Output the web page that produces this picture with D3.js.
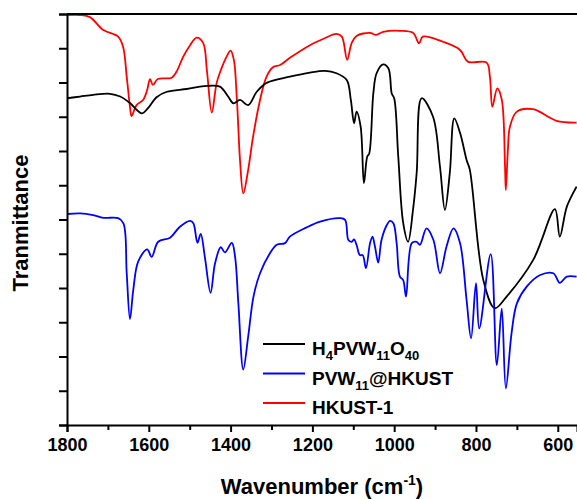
<!DOCTYPE html>
<html>
<head>
<meta charset="utf-8">
<script src="https://cdn.jsdelivr.net/npm/d3@7"></script>
<style>
  body { margin: 0; background: #fff; }
  text { font-family: "Liberation Sans", Arial, sans-serif; font-weight: bold; }
</style>
</head>
<body>
<div id="chart-area"></div>
<script>
// FTIR spectra, [wavenumber cm-1, transmittance (a.u.)]
const hkust = [
  [1800, 119.7], [1768, 119.7], [1744, 119.1], [1711, 115.3], [1675, 113.4], [1663, 110.5],
  [1654, 101.7], [1646, 92.9], [1642, 90.2], [1630, 93.4], [1614, 94.9], [1604, 97.8],
  [1597, 101.0], [1590, 99.3], [1578, 101.0], [1544, 101.4], [1532, 103.2], [1516, 107.5],
  [1499, 110.9], [1483, 113.1], [1467, 111.5], [1458, 103.6], [1446, 91.2], [1434, 99.9],
  [1422, 104.2], [1410, 107.5], [1400, 109.3], [1392, 106.6], [1385, 95.9], [1382, 89.1],
  [1377, 77.4], [1369, 67.6], [1357, 74.5], [1345, 84.2], [1328, 94.9], [1312, 101.7],
  [1296, 104.5], [1279, 105.1], [1255, 107.2], [1206, 110.9], [1174, 112.7], [1141, 114.2],
  [1128, 113.4], [1115, 106.6], [1104, 111.5], [1092, 113.6], [1059, 114.5], [1045, 113.9],
  [1027, 114.8], [986, 115.1], [954, 114.5], [939, 111.4], [930, 113.4], [881, 111.9],
  [839, 109.5], [820, 106.1], [774, 105.8], [766, 101.7], [760, 92.9], [748, 98.3],
  [737, 95.0], [729, 75.4], [727, 68.6], [722, 80.3], [717, 87.1], [700, 91.5],
  [661, 92.2], [603, 88.8], [554, 88.3]
];

const pvw = [
  [1800, 95.4], [1768, 95.9], [1736, 96.4], [1695, 96.7], [1670, 95.9], [1646, 94.0],
  [1617, 91.0], [1602, 92.5], [1581, 95.7], [1556, 97.3], [1507, 98.1], [1458, 99.0],
  [1426, 98.8], [1406, 95.9], [1393, 93.9], [1377, 94.9], [1357, 93.4], [1336, 97.3],
  [1312, 99.9], [1255, 101.7], [1206, 102.9], [1169, 103.4], [1141, 102.7], [1116, 100.7],
  [1106, 94.9], [1098, 88.1], [1092, 91.5], [1082, 87.1], [1074, 70.6], [1066, 78.3],
  [1061, 79.3], [1051, 96.8], [1043, 102.7], [1027, 105.3], [1014, 104.1], [1006, 96.8],
  [1000, 95.4], [990, 78.3], [978, 59.0], [966, 53.5], [954, 62.8], [945, 73.6],
  [933, 95.4], [905, 90.0], [888, 75.4], [876, 62.8], [864, 73.6], [853, 89.5],
  [839, 85.3], [823, 77.4], [815, 74.5], [782, 42.3], [754, 34.1], [725, 37.5],
  [660, 48.2], [607, 63.0], [595, 55.0], [578, 63.7], [554, 69.6]
];

const pvwHkust = [
  [1800, 61.6], [1768, 61.8], [1736, 61.3], [1711, 60.5], [1675, 60.4], [1662, 58.9],
  [1654, 44.3], [1646, 30.9], [1638, 39.4], [1626, 47.7], [1604, 51.3], [1593, 49.1],
  [1577, 53.5], [1548, 54.7], [1524, 57.9], [1499, 59.6], [1491, 58.9], [1481, 53.2],
  [1473, 55.8], [1463, 49.1], [1449, 38.6], [1438, 47.2], [1424, 51.9], [1414, 50.4],
  [1397, 53.2], [1389, 49.1], [1381, 35.5], [1369, 16.2], [1357, 25.8], [1344, 37.5],
  [1328, 44.3], [1304, 50.1], [1287, 52.6], [1267, 53.1], [1255, 55.0], [1214, 57.7],
  [1181, 59.4], [1133, 60.4], [1120, 59.9], [1112, 54.0], [1104, 53.5], [1098, 54.2],
  [1092, 52.6], [1084, 49.6], [1077, 49.6], [1069, 45.8], [1059, 53.1], [1053, 55.0],
  [1047, 52.1], [1039, 47.4], [1031, 54.0], [1018, 58.4], [1010, 59.6], [1002, 58.9],
  [994, 53.1], [986, 43.3], [978, 42.3], [971, 37.5], [957, 53.1], [945, 53.5],
  [937, 52.6], [921, 57.4], [904, 54.0], [888, 44.3], [872, 52.1], [855, 57.4],
  [839, 53.1], [823, 36.5], [812, 25.3], [800, 41.4], [792, 28.2], [764, 49.9],
  [749, 17.5], [737, 34.0], [727, 10.7], [713, 26.8], [700, 35.5], [676, 40.4],
  [643, 43.8], [611, 44.3], [595, 41.5], [578, 43.3], [554, 43.3]
];

const xTicks = [1800, 1600, 1400, 1200, 1000, 800, 600];
const xMinorTicks = [1700, 1500, 1300, 1100, 900, 700];
const yTicks = d3.range(0, 121, 10);

const width = 577, height = 499;
const plot = { left: 67, right: 577, top: 14, bottom: 425 };

const svg = d3.select("#chart-area").append("svg")
    .attr("width", width)
    .attr("height", height);

const x = d3.scaleLinear().domain([1800, 553]).range([plot.left, plot.right]);
const y = d3.scaleLinear().domain([0, 120]).range([plot.bottom, plot.top]);

const line = d3.line()
    .x(d => x(d[0]))
    .y(d => y(d[1]))
    .curve(d3.curveCatmullRom.alpha(0.5));

const series = [
    { name: "hkust", data: hkust, color: "#ff0000" },
    { name: "pvw", data: pvw, color: "#000000" },
    { name: "pvwHkust", data: pvwHkust, color: "#0000ff" }
];

svg.append("defs").append("clipPath").attr("id", "clip")
    .append("rect")
    .attr("x", plot.left).attr("y", plot.top)
    .attr("width", plot.right - plot.left).attr("height", plot.bottom - plot.top);

svg.append("g").attr("clip-path", "url(#clip)")
  .selectAll("path").data(series).enter()
  .append("path")
    .attr("d", d => line(d.data))
    .attr("fill", "none")
    .attr("stroke", d => d.color)
    .attr("stroke-width", 1.8);

// x axis
const xAxisCall = d3.axisBottom(x).tickValues(xTicks).tickSize(7).tickPadding(6)
    .tickFormat(d3.format("d"));
const xAxis = svg.append("g")
    .attr("transform", `translate(0, ${plot.bottom})`)
    .call(xAxisCall);
xAxis.select(".domain").attr("stroke-width", 2);
xAxis.selectAll(".tick line").attr("stroke-width", 2);
xAxis.selectAll("text").attr("font-size", 18).attr("fill", "#000")
    .attr("font-family", "'Liberation Sans', Arial, sans-serif").attr("font-weight", "bold");

const xMinor = d3.axisBottom(x).tickValues(xMinorTicks).tickSize(5).tickFormat("");
svg.append("g")
    .attr("transform", `translate(0, ${plot.bottom})`)
    .call(xMinor)
    .call(g => g.select(".domain").remove())
    .selectAll(".tick line").attr("stroke-width", 2);

// y axis, no labels
const yAxisCall = d3.axisLeft(y).tickValues(yTicks).tickSize(8).tickFormat("");
const yAxis = svg.append("g")
    .attr("transform", `translate(${plot.left}, 0)`)
    .call(yAxisCall);
yAxis.select(".domain").attr("stroke-width", 2);
yAxis.selectAll(".tick line").attr("stroke-width", 2);

// top frame line
svg.append("line")
    .attr("x1", plot.left).attr("x2", plot.right)
    .attr("y1", plot.top).attr("y2", plot.top)
    .attr("stroke", "#000").attr("stroke-width", 2);

// axis labels
const xLabel = svg.append("text")
    .attr("x", 322)
    .attr("y", 494)
    .attr("text-anchor", "middle")
    .attr("font-size", 22);
xLabel.append("tspan").text("Wavenumber (cm");
xLabel.append("tspan").attr("font-size", 14).attr("dy", -9).text("-1");
xLabel.append("tspan").attr("dy", 9).text(")");

svg.append("text")
    .attr("transform", "translate(28, 223) rotate(-90)")
    .attr("text-anchor", "middle")
    .attr("font-size", 22)
    .text("Tranmittance");

// legend
const legend = svg.append("g");
const legendRows = [
    { color: "#000000", parts: [["H", 0], ["4", 1], ["PVW", 0], ["11", 1], ["O", 0], ["40", 1]] },
    { color: "#0000ff", parts: [["PVW", 0], ["11", 1], ["@HKUST", 0]] },
    { color: "#ff0000", parts: [["HKUST-1", 0]] }
];
legendRows.forEach((r, i) => {
    const ly = 344 + i * 29.5;
    legend.append("line")
        .attr("x1", 263).attr("x2", 305)
        .attr("y1", ly).attr("y2", ly)
        .attr("stroke", r.color).attr("stroke-width", 2);
    const t = legend.append("text")
        .attr("x", 312)
        .attr("y", ly + 11)
        .attr("font-size", 19);
    let sub = 0;
    r.parts.forEach(p => {
        const dy = p[1] === sub ? 0 : (p[1] ? 5 : -5);
        sub = p[1];
        t.append("tspan")
            .attr("dy", dy)
            .attr("font-size", p[1] ? 13 : 19)
            .text(p[0]);
    });
});
</script>
</body>
</html>
